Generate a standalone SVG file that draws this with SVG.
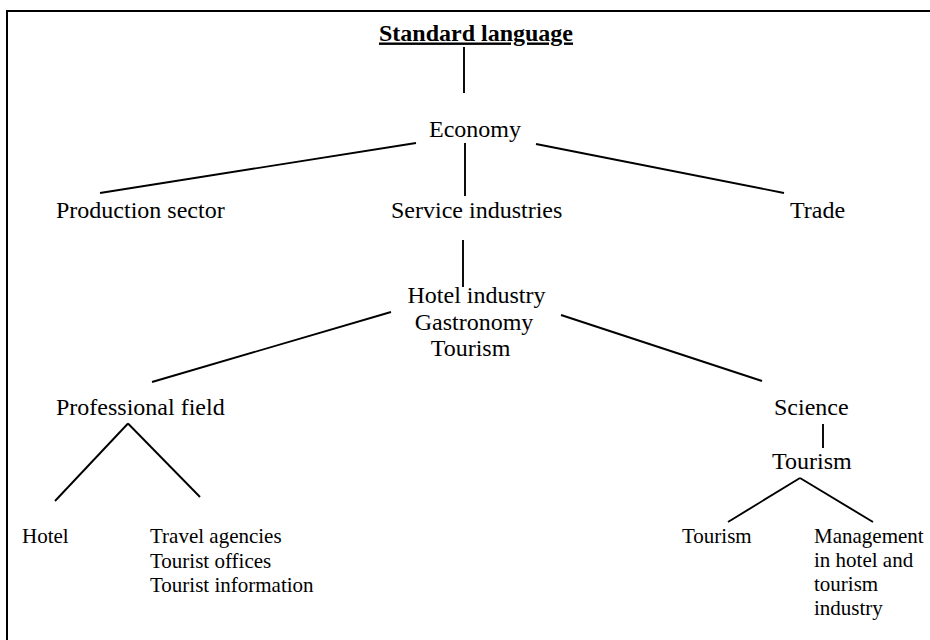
<svg xmlns="http://www.w3.org/2000/svg" width="930" height="640" viewBox="0 0 930 640">
<style>
  .t { font-family: "Liberation Serif", "Times New Roman", serif; fill: #000; }
  .big { font-size: 24px; }
  .small { font-size: 21px; }
  .title { font-size: 24px; font-weight: bold; text-decoration: underline; }
  .c { text-anchor: middle; }
  .ln { stroke: #000; stroke-width: 1.9; fill: none; }
  .frame { stroke: #000; stroke-width: 2; fill: none; }
</style>
<rect width="930" height="640" fill="#fff"/>
<path class="frame" d="M7,640 V11 H930"/>
<g id="connectors">
  <line class="ln" x1="464" y1="47" x2="464" y2="93"/>
  <line class="ln" x1="416" y1="143" x2="100" y2="193"/>
  <line class="ln" x1="465" y1="143" x2="465" y2="196"/>
  <line class="ln" x1="536" y1="144" x2="784" y2="193"/>
  <line class="ln" x1="463" y1="240" x2="463" y2="287"/>
  <line class="ln" x1="391" y1="312" x2="152" y2="382"/>
  <line class="ln" x1="561" y1="315" x2="762" y2="381"/>
  <line class="ln" x1="55" y1="501" x2="128" y2="423.5"/>
  <line class="ln" x1="128" y1="423.5" x2="200" y2="497"/>
  <line class="ln" x1="823" y1="424" x2="823" y2="448"/>
  <line class="ln" x1="728" y1="522" x2="800" y2="478"/>
  <line class="ln" x1="800" y1="478" x2="873" y2="522"/>
</g>
<g id="standard-language"><text class="t title c" x="476" y="40.5">Standard language</text></g>
<g id="economy"><text class="t big c" x="475" y="137">Economy</text></g>
<g id="production-sector"><text class="t big" x="56" y="218">Production sector</text></g>
<g id="service-industries"><text class="t big" x="391" y="218">Service industries</text></g>
<g id="trade"><text class="t big" x="790" y="218">Trade</text></g>
<g id="hotel-gastronomy-tourism">
  <text class="t big" x="407.5" y="302.5">Hotel industry</text>
  <text class="t big c" x="474" y="330">Gastronomy</text>
  <text class="t big c" x="470.5" y="355.5">Tourism</text>
</g>
<g id="professional-field"><text class="t big" x="56" y="415">Professional field</text></g>
<g id="science"><text class="t big" x="774" y="415">Science</text></g>
<g id="science-tourism"><text class="t big" x="772" y="469">Tourism</text></g>
<g id="hotel"><text class="t small" x="22" y="543">Hotel</text></g>
<g id="travel">
  <text class="t small" x="150" y="543">Travel agencies</text>
  <text class="t small" x="150" y="567.5">Tourist offices</text>
  <text class="t small" x="150" y="591.5">Tourist information</text>
</g>
<g id="tourism-leaf"><text class="t small" x="682" y="543">Tourism</text></g>
<g id="management">
  <text class="t small" x="814" y="543">Management</text>
  <text class="t small" x="814" y="567">in hotel and</text>
  <text class="t small" x="814" y="591">tourism</text>
  <text class="t small" x="814" y="615">industry</text>
</g>
</svg>
